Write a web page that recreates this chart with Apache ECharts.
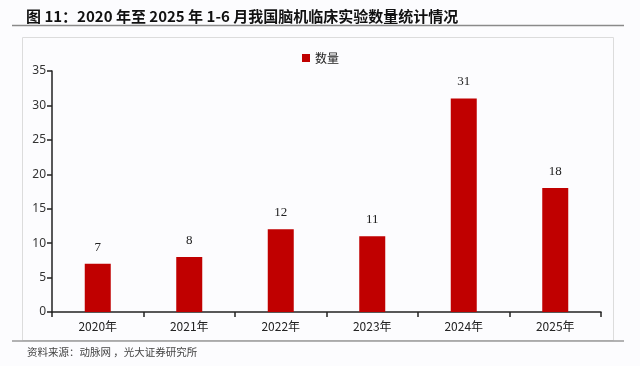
<!DOCTYPE html>
<html><head><meta charset="utf-8">
<script src="https://cdn.jsdelivr.net/npm/echarts@6/dist/echarts.min.js"></script>
<style>html,body{margin:0;padding:0;background:#fcfcfe;}#c{width:640px;height:366px;}</style>
</head><body><div id="c"></div>
<script>
const categories = ['2020年','2021年','2022年','2023年','2024年','2025年'];
const counts = [7, 8, 12, 11, 31, 18];
const seriesName = '数量';
const titleText = '图 11：2020 年至 2025 年 1-6 月我国脑机临床实验数量统计情况';
const sourceText = '资料来源：动脉网 ，光大证券研究所';

const chart = echarts.init(document.getElementById('c'), null, {renderer:'canvas'});
chart.setOption({
  backgroundColor: '#fcfcfe',
  animation: false,
  title: [{
    text: titleText, left: 21, top: 4,
    textStyle: {fontFamily: 'Noto Sans CJK SC', fontSize: 15, fontWeight: 'bold', color: '#111'}
  }, {
    text: sourceText, left: 22, top: 342,
    textStyle: {fontFamily: 'Noto Sans CJK SC', fontSize: 10.5, fontWeight: 'normal', color: '#444'}
  }],
  graphic: [
    {type:'line', shape:{x1:12,y1:25.5,x2:624,y2:25.5}, style:{stroke:'#8a8a8a', lineWidth:1.5}},
    {type:'rect', shape:{x:22.5,y:37.5,width:591,height:303}, style:{fill:'none', stroke:'#dcdcdc', lineWidth:1}},
    {type:'line', shape:{x1:12,y1:341,x2:624,y2:341}, style:{stroke:'#9a9a9a', lineWidth:1.5}}
  ],
  legend: {
    data: [seriesName], top: 47, left: 297, itemWidth: 8, itemHeight: 8, icon: 'rect', itemGap: 4,
    textStyle: {fontFamily: 'Noto Sans CJK SC', fontSize: 12, color: '#222'}
  },
  grid: {left: 52, right: 39, top: 71, bottom: 54, containLabel: false},
  xAxis: {
    type: 'category', data: categories,
    axisLine: {lineStyle: {color: '#222', width: 1.5}},
    axisTick: {show: true, length: 5, lineStyle: {color: '#222', width: 1.5}},
    axisLabel: {fontFamily: 'Noto Sans CJK SC', fontSize: 12, color: '#222', margin: 8}
  },
  yAxis: {
    type: 'value', min: 0, max: 35, interval: 5,
    splitLine: {show: false},
    axisLine: {show: true, lineStyle: {color: '#222', width: 1.5}},
    axisTick: {show: true, length: 5, lineStyle: {color: '#222', width: 1.5}},
    axisLabel: {fontFamily: 'Noto Sans', fontSize: 12, color: '#333', margin: 6}
  },
  series: [{
    name: seriesName, type: 'bar', data: counts, barWidth: 26,
    itemStyle: {color: '#c00000'},
    label: {show: true, position: 'top', distance: 10, fontFamily: 'Liberation Serif', fontSize: 13, color: '#222'}
  }]
});
</script></body></html>
